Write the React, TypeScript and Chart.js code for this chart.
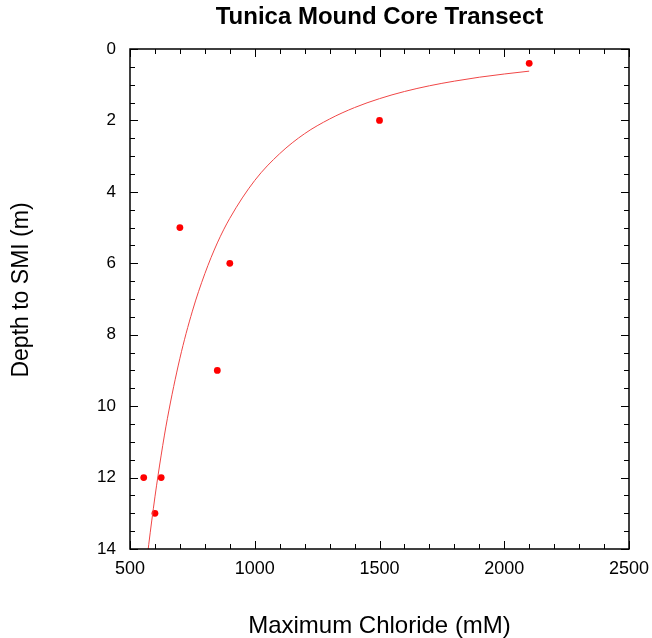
import React, { useEffect, useRef } from "react";
import { Chart, registerables } from "chart.js";
Chart.register(...registerables);

const FONT = '"Liberation Sans", Arial, Helvetica, sans-serif';

const chartTitle = "Tunica Mound Core Transect";
const xTitle = "Maximum Chloride (mM)";
const yTitle = "Depth to SMI (m)";

const xTicks = [500, 1000, 1500, 2000, 2500];
const yTicks = [0, 2, 4, 6, 8, 10, 12, 14];

// observed points
const chlorideObs = [2100, 1500, 700, 900, 850, 555, 625, 600];
const depthObs = [0.4, 2, 5, 6, 9, 12, 12, 13];

// fitted curve
const fitChloride = [570, 575, 600, 625, 650, 700, 750, 800, 850, 900, 1000, 1100, 1200, 1300, 1400, 1500, 1600, 1700, 1800, 1900, 2000, 2100];
const fitDepth = [14.18, 13.88, 12.54, 11.37, 10.34, 8.66, 7.34, 6.29, 5.43, 4.74, 3.68, 2.93, 2.37, 1.96, 1.64, 1.39, 1.19, 1.03, 0.9, 0.79, 0.7, 0.62];

export default function App() {
  const ref = useRef<HTMLCanvasElement>(null);
  useEffect(() => {
    document.body.style.margin = "0";
    const framePlugin = {
      id: "frame",
      afterDatasetsDraw(chart: any) {
        const { ctx, chartArea: a, scales } = chart;
        const x = scales.x;
        const y = scales.y;
        ctx.save();
        ctx.strokeStyle = "#000";
        ctx.lineWidth = 1;
        const line = (x1: number, y1: number, x2: number, y2: number) => {
          ctx.beginPath();
          ctx.moveTo(x1, y1);
          ctx.lineTo(x2, y2);
          ctx.stroke();
        };
        for (let v = xTicks[0]; v <= xTicks[xTicks.length - 1]; v += 100) {
          const px = Math.round(x.getPixelForValue(v)) + 0.5;
          const len = v % 500 === 0 ? 8 : 5;
          line(px, a.bottom, px, a.bottom - len);
          line(px, a.top, px, a.top + len);
        }
        for (let v = yTicks[0]; v <= yTicks[yTicks.length - 1]; v += 0.5) {
          const py = Math.round(y.getPixelForValue(v)) + 0.5;
          const len = v % 2 === 0 ? 8 : 5;
          line(a.left, py, a.left + len, py);
          line(a.right, py, a.right - len, py);
        }
        ctx.lineWidth = 1.5;
        ctx.strokeRect(a.left, a.top, a.right - a.left, a.bottom - a.top);
        ctx.restore();
      },
      afterDraw(chart: any) {
        const { ctx, chartArea: a } = chart;
        const cx = (a.left + a.right) / 2;
        ctx.save();
        ctx.fillStyle = "#000";
        ctx.textAlign = "center";
        ctx.textBaseline = "alphabetic";
        ctx.font = `bold 24px ${FONT}`;
        ctx.fillText(chartTitle, cx, 23.5);
        ctx.font = `24px ${FONT}`;
        ctx.fillText(xTitle, cx, 633);
        ctx.translate(28, 290);
        ctx.rotate(-Math.PI / 2);
        ctx.font = `23px ${FONT}`;
        ctx.fillText(yTitle, 0, 0);
        ctx.restore();
      },
    };

    const chart = new Chart(ref.current!, {
      type: "scatter",
      data: {
        datasets: [
          {
            label: "fit",
            data: fitChloride.map((c, i) => ({ x: c, y: fitDepth[i] })),
            showLine: true,
            borderColor: "rgb(240,70,70)",
            borderWidth: 1,
            pointRadius: 0,
            cubicInterpolationMode: "monotone",
          },
          {
            label: "observed",
            data: chlorideObs.map((c, i) => ({ x: c, y: depthObs[i] })),
            backgroundColor: "#ff0000",
            borderColor: "#ff0000",
            borderWidth: 0,
            pointRadius: 3.4,
          },
        ],
      },
      options: {
        animation: false,
        responsive: false,
        devicePixelRatio: 1,
        layout: { padding: { top: 49, right: 23, left: 0, bottom: 0 } },
        plugins: { legend: { display: false }, tooltip: { enabled: false }, title: { display: false } },
        scales: {
          x: {
            type: "linear",
            position: "bottom",
            min: xTicks[0],
            max: xTicks[xTicks.length - 1],
            afterBuildTicks: (s: any) => {
              s.ticks = xTicks.map((v) => ({ value: v }));
            },
            afterFit: (s: any) => {
              s.height = 89;
              s.paddingLeft = 0;
              s.paddingRight = 0;
            },
            grid: { display: false, drawTicks: false },
            border: { display: false },
            ticks: {
              color: "#000",
              padding: 9,
              maxRotation: 0,
              font: { family: FONT, size: 18 },
              callback: (v: any) => String(v),
            },
          },
          y: {
            type: "linear",
            position: "left",
            reverse: true,
            min: yTicks[0],
            max: yTicks[yTicks.length - 1],
            afterBuildTicks: (s: any) => {
              s.ticks = yTicks.map((v) => ({ value: v }));
            },
            afterFit: (s: any) => {
              s.width = 130;
              s.paddingTop = 0;
              s.paddingBottom = 0;
            },
            grid: { display: false, drawTicks: false },
            border: { display: false },
            ticks: {
              color: "#000",
              padding: 14,
              font: { family: FONT, size: 17 },
              callback: (v: any) => String(v),
            },
          },
        },
      },
      plugins: [framePlugin],
    } as any);
    return () => chart.destroy();
  }, []);
  return <canvas ref={ref} width={652} height={638} style={{ display: "block", width: 652, height: 638 }} />;
}
